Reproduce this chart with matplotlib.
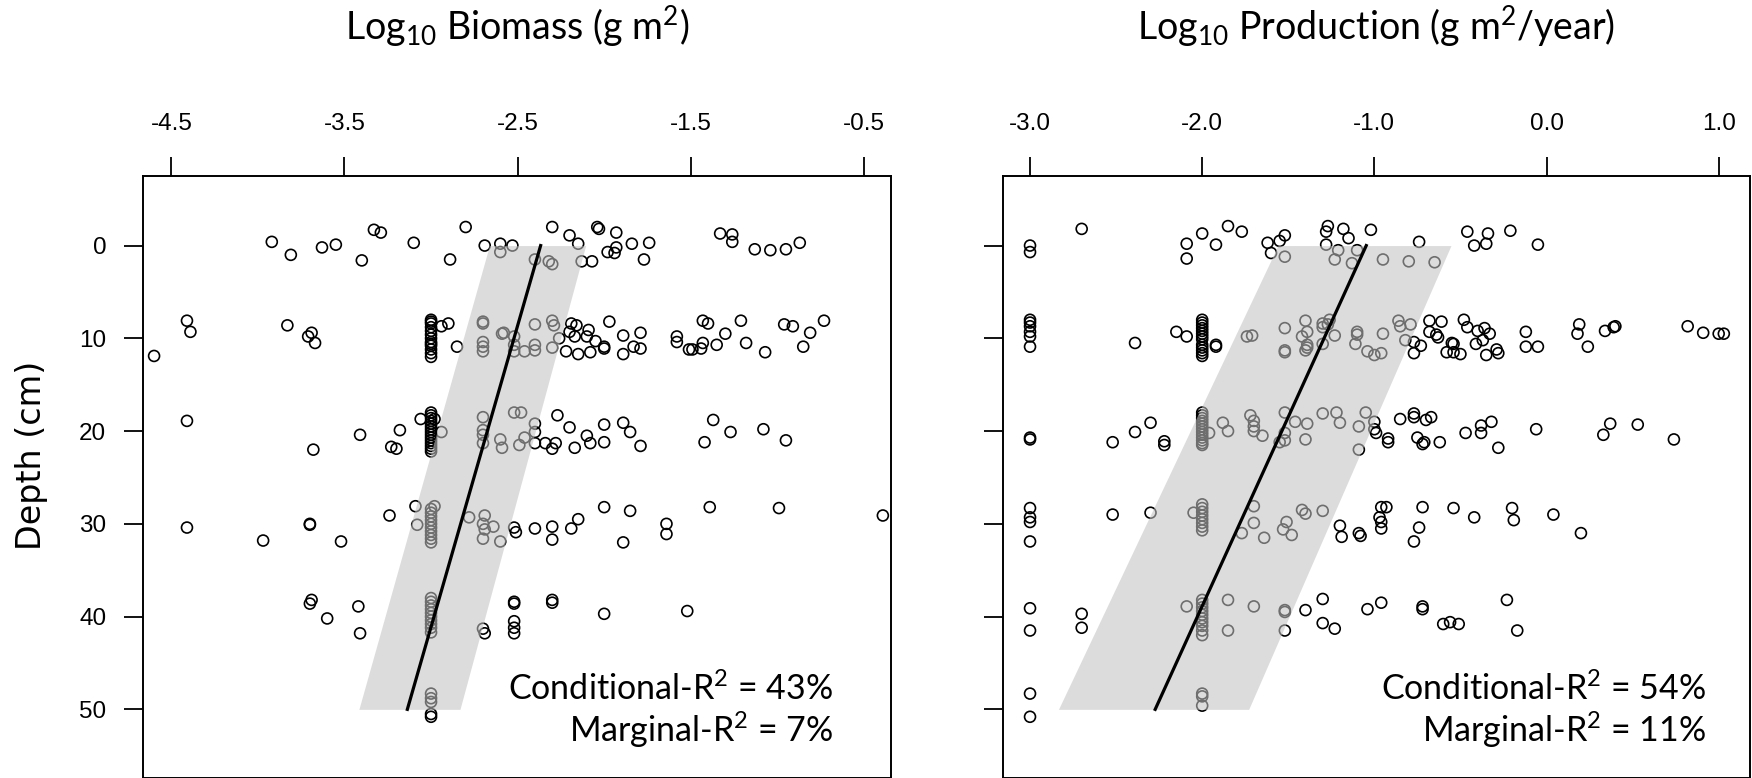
import numpy as np
import matplotlib
matplotlib.use("Agg")
import matplotlib.pyplot as plt

plt.rcParams["mathtext.fontset"] = "custom"
plt.rcParams["mathtext.rm"] = "Lato"
plt.rcParams["mathtext.it"] = "Lato:italic"
plt.rcParams["mathtext.bf"] = "Lato:bold"

# --- data: (log10 value, depth cm) ---
biomass_pts = [
    # ~0 cm
    (-3.92, -0.4), (-3.81, 1.0), (-3.63, 0.2), (-3.55, -0.1), (-3.40, 1.6), (-3.33, -1.7),
    (-3.29, -1.4), (-3.10, -0.3), (-2.89, 1.5), (-2.80, -2.0), (-2.69, 0.0), (-2.60, -0.2),
    (-2.60, 0.7), (-2.53, 0.0), (-2.40, 1.5), (-2.32, 1.7), (-2.30, 2.0), (-2.30, -2.0),
    (-2.20, -1.1), (-2.15, -0.2), (-2.13, 1.7), (-2.07, 1.7), (-2.04, -2.0), (-2.03, -1.8),
    (-1.93, -1.4), (-1.98, 0.7), (-1.94, 0.8), (-1.93, 0.2), (-1.84, -0.2), (-1.77, 1.5),
    (-1.74, -0.3), (-1.33, -1.3), (-1.26, -1.2), (-1.26, -0.4), (-1.13, 0.4), (-1.04, 0.5),
    (-0.95, 0.4), (-0.87, -0.3),
    # ~10 cm
    (-4.60, 11.9), (-4.41, 8.1), (-4.39, 9.3), (-3.83, 8.6), (-3.69, 9.4), (-3.71, 9.8),
    (-3.67, 10.5),
    (-3.0, 8.0), (-3.0, 8.2), (-3.0, 8.4), (-3.0, 8.8), (-3.0, 9.2), (-3.0, 9.6), (-3.0, 10.0),
    (-3.0, 10.4), (-3.0, 10.6), (-3.0, 10.8), (-3.0, 11.2), (-3.0, 11.6), (-3.0, 12.0),
    (-2.94, 8.7), (-2.90, 8.4), (-2.85, 10.9), (-2.70, 8.2), (-2.70, 8.4), (-2.70, 10.4),
    (-2.70, 10.9), (-2.70, 11.4), (-2.59, 9.5), (-2.58, 9.4), (-2.52, 9.8), (-2.52, 10.7),
    (-2.52, 11.4), (-2.46, 11.4), (-2.40, 8.5), (-2.40, 10.7), (-2.40, 11.3), (-2.30, 8.1),
    (-2.29, 8.6), (-2.30, 11.0), (-2.26, 10.0), (-2.22, 11.4), (-2.19, 8.4), (-2.16, 8.6),
    (-2.20, 9.3), (-2.17, 9.8), (-2.15, 11.7), (-2.09, 9.1), (-2.10, 9.8), (-2.08, 11.5),
    (-2.05, 10.3), (-2.00, 10.9), (-2.00, 11.1), (-1.97, 8.2), (-1.89, 9.7), (-1.89, 11.7),
    (-1.83, 10.9), (-1.79, 11.1), (-1.79, 9.4), (-1.58, 9.8), (-1.58, 10.4), (-1.51, 11.2),
    (-1.49, 11.2), (-1.44, 11.1), (-1.43, 10.5), (-1.43, 8.1), (-1.40, 8.4), (-1.35, 10.7),
    (-1.30, 9.5), (-1.21, 8.1), (-1.18, 10.5), (-1.07, 11.5), (-0.96, 8.5), (-0.91, 8.7),
    (-0.85, 10.9), (-0.81, 9.4), (-0.73, 8.1),
    # ~20 cm
    (-4.41, 18.9), (-3.68, 22.0), (-3.41, 20.4), (-3.23, 21.7), (-3.20, 21.9), (-3.18, 19.9),
    (-3.06, 18.7),
    (-3.0, 18.0), (-3.0, 18.3), (-3.0, 18.6), (-3.0, 18.9), (-3.0, 19.2), (-3.0, 19.5),
    (-3.0, 19.8), (-3.0, 20.1), (-3.0, 20.4), (-3.0, 20.7), (-3.0, 21.0), (-3.0, 21.3),
    (-3.0, 21.6), (-3.0, 21.9), (-3.0, 22.2),
    (-2.98, 18.7), (-2.94, 20.1), (-2.70, 18.5), (-2.70, 19.9), (-2.70, 20.4), (-2.70, 21.3),
    (-2.52, 18.0), (-2.48, 18.0), (-2.60, 20.9), (-2.59, 21.8), (-2.49, 21.5), (-2.46, 20.7),
    (-2.40, 19.2), (-2.40, 20.1), (-2.40, 21.3), (-2.34, 21.3), (-2.30, 21.9), (-2.28, 21.3),
    (-2.27, 18.3), (-2.20, 19.6), (-2.17, 21.8), (-2.10, 20.5), (-2.08, 21.3), (-2.00, 19.3),
    (-2.00, 21.2), (-1.89, 19.1), (-1.85, 20.1), (-1.79, 21.6), (-1.42, 21.2), (-1.37, 18.8),
    (-1.27, 20.1), (-1.08, 19.8), (-0.95, 21.0),
    # ~30 cm
    (-4.41, 30.4), (-3.97, 31.8), (-3.70, 30.0), (-3.70, 30.1), (-3.52, 31.9), (-3.24, 29.1),
    (-3.09, 28.1), (-3.08, 30.1), (-2.98, 28.1),
    (-3.0, 28.4), (-3.0, 28.8), (-3.0, 29.2), (-3.0, 29.6), (-3.0, 30.0), (-3.0, 30.4),
    (-3.0, 30.8), (-3.0, 31.2), (-3.0, 31.6), (-3.0, 32.0),
    (-2.78, 29.3), (-2.69, 29.1), (-2.70, 30.0), (-2.69, 30.6), (-2.64, 30.3), (-2.70, 31.6),
    (-2.60, 31.9), (-2.52, 30.4), (-2.51, 30.9), (-2.40, 30.5), (-2.30, 30.3), (-2.30, 31.7),
    (-2.19, 30.5), (-2.15, 29.5), (-2.00, 28.2), (-1.85, 28.6), (-1.89, 32.0), (-1.64, 30.0),
    (-1.64, 31.1), (-1.39, 28.2), (-0.99, 28.3), (-0.39, 29.1),
    # ~40 cm
    (-3.70, 38.6), (-3.69, 38.2), (-3.60, 40.2), (-3.42, 38.9), (-3.41, 41.8),
    (-3.0, 38.0), (-3.0, 38.4), (-3.0, 38.8), (-3.0, 39.2), (-3.0, 39.6), (-3.0, 40.0),
    (-3.0, 40.4), (-3.0, 40.8), (-3.0, 41.2), (-3.0, 41.7),
    (-2.70, 41.3), (-2.69, 41.8), (-2.52, 38.4), (-2.52, 38.6), (-2.52, 40.5), (-2.52, 41.2),
    (-2.52, 41.8), (-2.30, 38.2), (-2.30, 38.5), (-2.00, 39.7), (-1.52, 39.4),
    # ~50 cm
    (-3.0, 48.3), (-3.0, 48.8), (-3.0, 49.2), (-3.0, 50.5), (-3.0, 50.8),
]

production_pts = [
    # ~0 cm
    (-3.00, 0.0), (-3.00, 0.7), (-2.70, -1.8), (-2.09, -0.2), (-2.09, 1.4), (-2.00, -1.3),
    (-1.92, -0.1), (-1.85, -2.1), (-1.77, -1.5), (-1.62, -0.3), (-1.60, 0.8), (-1.55, -0.5),
    (-1.52, -1.1), (-1.52, 1.2), (-1.27, -2.1), (-1.28, -1.5), (-1.28, -0.1), (-1.18, -1.8),
    (-1.15, -0.8), (-1.21, 0.5), (-1.23, 1.5), (-1.13, 1.9), (-1.10, 0.5), (-1.02, -1.7),
    (-0.95, 1.5), (-0.74, -0.4), (-0.80, 1.7), (-0.65, 1.8), (-0.46, -1.5), (-0.42, 0.0),
    (-0.35, -0.2), (-0.34, -1.3), (-0.21, -1.6), (-0.05, -0.1),
    # ~10 cm
    (-3.0, 8.0), (-3.0, 8.3), (-3.0, 8.7), (-3.0, 9.3), (-3.0, 9.8), (-3.0, 10.9),
    (-2.39, 10.5), (-2.15, 9.3), (-2.09, 9.8),
    (-2.0, 8.0), (-2.0, 8.3), (-2.0, 8.6), (-2.0, 8.9), (-2.0, 9.2), (-2.0, 9.5),
    (-2.0, 9.8), (-2.0, 10.1), (-2.0, 10.7), (-2.0, 11.0), (-2.0, 11.3), (-2.0, 11.6),
    (-2.0, 11.9),
    (-1.92, 10.7), (-1.92, 10.9), (-1.74, 9.8), (-1.71, 9.7), (-1.52, 8.9), (-1.52, 11.3),
    (-1.52, 11.5), (-1.42, 9.8), (-1.40, 8.1), (-1.39, 9.3), (-1.39, 10.7), (-1.39, 11.0),
    (-1.40, 11.3), (-1.30, 8.4), (-1.30, 8.8), (-1.26, 8.0), (-1.27, 8.5), (-1.30, 10.6),
    (-1.23, 9.7), (-1.10, 9.3), (-1.10, 9.6), (-1.11, 10.6), (-1.04, 11.4), (-1.00, 11.8),
    (-0.96, 11.6), (-0.95, 9.5), (-0.86, 8.1), (-0.85, 8.7), (-0.82, 10.2), (-0.79, 8.5),
    (-0.77, 10.4), (-0.77, 11.6), (-0.73, 10.8), (-0.68, 8.1), (-0.68, 9.3), (-0.64, 9.6),
    (-0.63, 9.9), (-0.61, 8.2), (-0.55, 10.5), (-0.54, 10.6), (-0.58, 11.5), (-0.54, 11.5),
    (-0.50, 11.7), (-0.48, 8.0), (-0.46, 8.8), (-0.40, 9.2), (-0.36, 8.9), (-0.33, 9.5),
    (-0.41, 10.6), (-0.37, 10.2), (-0.35, 11.8), (-0.29, 11.2), (-0.28, 11.6), (-0.12, 9.3),
    (-0.12, 10.9), (-0.05, 10.9), (0.19, 8.5), (0.18, 9.5), (0.24, 10.9), (0.34, 9.2),
    (0.39, 8.8), (0.40, 8.7), (0.82, 8.7), (0.91, 9.4), (1.00, 9.5), (1.03, 9.5),
    # ~20 cm
    (-3.00, 20.7), (-3.00, 20.9), (-2.52, 21.2), (-2.39, 20.1), (-2.30, 19.1), (-2.22, 21.1),
    (-2.22, 21.5),
    (-2.0, 18.0), (-2.0, 18.3), (-2.0, 18.6), (-2.0, 18.9), (-2.0, 19.2), (-2.0, 19.5),
    (-2.0, 19.8), (-2.0, 20.1), (-2.0, 20.4), (-2.0, 20.7), (-2.0, 21.0), (-2.0, 21.3),
    (-2.0, 21.5),
    (-1.96, 20.2), (-1.88, 19.1), (-1.85, 20.0), (-1.72, 18.3), (-1.70, 18.9), (-1.70, 19.5),
    (-1.70, 20.0), (-1.65, 20.5), (-1.52, 18.0), (-1.52, 20.2), (-1.55, 21.2), (-1.52, 21.0),
    (-1.46, 19.0), (-1.39, 19.2), (-1.40, 20.9), (-1.30, 18.1), (-1.22, 18.0), (-1.20, 19.1),
    (-1.09, 19.5), (-1.05, 18.0), (-1.09, 22.0), (-1.00, 19.0), (-1.00, 19.8), (-0.99, 20.2),
    (-0.92, 20.8), (-0.92, 21.2), (-0.85, 18.7), (-0.77, 18.1), (-0.77, 18.5), (-0.70, 18.8),
    (-0.67, 18.5), (-0.75, 20.7), (-0.71, 21.2), (-0.72, 21.4), (-0.62, 21.2), (-0.47, 20.2),
    (-0.38, 19.4), (-0.38, 20.2), (-0.32, 19.0), (-0.28, 21.8), (-0.06, 19.8), (0.33, 20.4),
    (0.37, 19.2), (0.53, 19.3), (0.74, 20.9),
    # ~30 cm
    (-3.00, 28.3), (-3.00, 29.3), (-3.00, 29.8), (-3.00, 31.9), (-2.52, 29.0), (-2.30, 28.8),
    (-2.0, 27.9), (-2.0, 28.3), (-2.0, 28.7), (-2.0, 29.1), (-2.0, 29.5), (-2.0, 29.9),
    (-2.0, 30.3), (-2.0, 30.7),
    (-2.05, 28.8), (-1.70, 28.1), (-1.70, 29.9), (-1.77, 31.0), (-1.64, 31.5), (-1.53, 30.6),
    (-1.51, 29.8), (-1.48, 31.2), (-1.42, 28.5), (-1.40, 28.9), (-1.30, 28.6), (-1.20, 30.2),
    (-1.19, 31.4), (-1.09, 31.0), (-1.08, 31.3), (-0.97, 29.3), (-0.96, 29.8), (-0.96, 30.5),
    (-0.96, 28.2), (-0.93, 28.2), (-0.77, 31.9), (-0.74, 30.4), (-0.72, 28.2), (-0.54, 28.3),
    (-0.42, 29.3), (-0.20, 28.3), (-0.19, 29.6), (0.04, 29.0), (0.20, 31.0),
    # ~40 cm
    (-3.00, 39.1), (-3.00, 41.5), (-2.70, 39.7), (-2.70, 41.2), (-2.09, 38.9),
    (-2.0, 38.2), (-2.0, 38.6), (-2.0, 39.0), (-2.0, 39.4), (-2.0, 39.8), (-2.0, 40.2),
    (-2.0, 40.6), (-2.0, 41.0), (-2.0, 41.5), (-2.0, 42.0),
    (-1.85, 38.2), (-1.85, 41.5), (-1.70, 38.9), (-1.52, 39.3), (-1.52, 39.5), (-1.52, 41.5),
    (-1.40, 39.3), (-1.30, 38.1), (-1.30, 40.7), (-1.23, 41.3), (-1.04, 39.2), (-0.96, 38.5),
    (-0.72, 38.9), (-0.72, 39.2), (-0.60, 40.8), (-0.56, 40.6), (-0.51, 40.8), (-0.23, 38.2),
    (-0.17, 41.5),
    # ~50 cm
    (-3.0, 48.3), (-3.0, 50.8), (-2.0, 48.3), (-2.0, 48.6), (-2.0, 49.6),
]

# fitted line and its band, at depth 0 and 50
fit_depth = [0, 50]
biomass_fit = [-2.367, -3.137]
biomass_lo = [-2.663, -3.417]
biomass_hi = [-2.107, -2.833]
production_fit = [-1.047, -2.273]
production_lo = [-1.56, -2.835]
production_hi = [-0.555, -1.730]

biomass_ticks = [-4.5, -3.5, -2.5, -1.5, -0.5]
production_ticks = [-3.0, -2.0, -1.0, 0.0, 1.0]
depth_ticks = [0, 10, 20, 30, 40, 50]

biomass_r2 = ["Conditional-R$^{2}$ = 43%", "Marginal-R$^{2}$ = 7%"]
production_r2 = ["Conditional-R$^{2}$ = 54%", "Marginal-R$^{2}$ = 11%"]


def draw_panel(ax, pts, lo, hi, fit, ticks, xlim, r2, text_x, show_ylabels):
    pts = np.array(pts)
    ax.scatter(pts[:, 0], pts[:, 1], s=62, facecolors="none", edgecolors="black",
               linewidths=1.2, zorder=2, clip_on=False)
    # band drawn over the points so those inside look grey
    ax.fill_betweenx(fit_depth, lo, hi, color=(0.76, 0.76, 0.76), alpha=0.57,
                     lw=0, zorder=3)
    ax.plot(fit, fit_depth, color="black", lw=2.3, zorder=4)

    ax.set_xlim(*xlim)
    ax.set_ylim(57.4, -7.5)
    ax.xaxis.tick_top()
    ax.set_xticks(ticks)
    ax.set_xticklabels(["%.1f" % t for t in ticks], family="Liberation Sans", size=17.5)
    ax.set_yticks(depth_ticks)
    if show_ylabels:
        ax.set_yticklabels([str(t) for t in depth_ticks], family="Liberation Sans", size=17.5)
    else:
        ax.set_yticklabels([])
    ax.tick_params(axis="x", length=13.5, width=1.3, pad=16)
    ax.tick_params(axis="y", length=13.5, width=1.3, pad=13)
    for sp in ax.spines.values():
        sp.set_linewidth(1.4)

    ax.text(text_x, 0.1296, r2[0], transform=ax.transAxes, ha="right", va="baseline",
            family="Lato", size=24.5)
    ax.text(text_x, 0.0598, r2[1], transform=ax.transAxes, ha="right", va="baseline",
            family="Lato", size=24.5)


fig = plt.figure(figsize=(17.52, 7.78), dpi=100)
ax1 = fig.add_axes([143 / 1752, 0.0, 748 / 1752, 602 / 778])
ax2 = fig.add_axes([1003 / 1752, 0.0, 747 / 1752, 602 / 778])

draw_panel(ax1, biomass_pts, biomass_lo, biomass_hi, biomass_fit, biomass_ticks,
           (-4.664, -0.343), biomass_r2, 0.9225, True)
draw_panel(ax2, production_pts, production_lo, production_hi, production_fit,
           production_ticks, (-3.157, 1.182), production_r2, 0.941, False)

fig.text(517 / 1752, 0.9495, "Log$_{10}$ Biomass (g m$^{2}$)", ha="center",
         va="baseline", family="Lato", size=27)
fig.text(1376 / 1752, 0.9495, "Log$_{10}$ Production (g m$^{2}$/year)", ha="center",
         va="baseline", family="Lato", size=27)
fig.text(0.018, 0.415, "Depth (cm)", rotation=90, ha="center", va="center",
         family="DejaVu Sans", size=24)

fig.savefig("out.png", dpi=100)
